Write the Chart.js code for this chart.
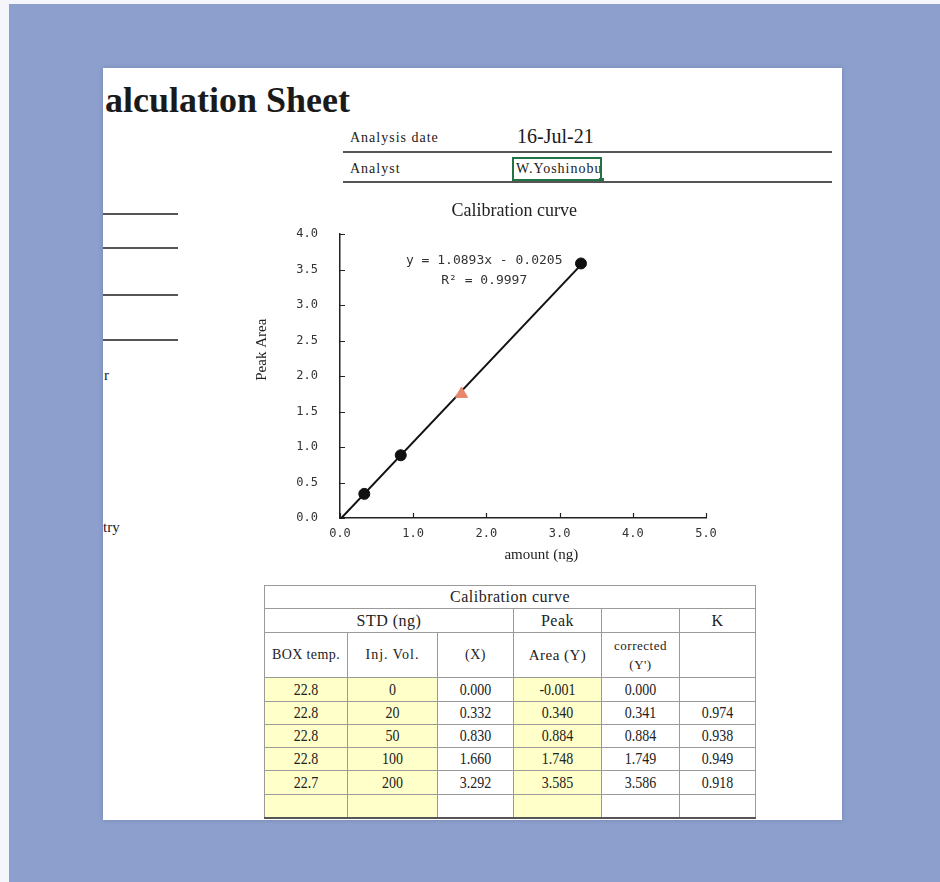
<!DOCTYPE html>
<html>
<head>
<meta charset="utf-8">
<script src="https://cdn.jsdelivr.net/npm/chart.js@4.4.1/dist/chart.umd.min.js"></script>
<style>
  html,body{margin:0;padding:0;}
  body{width:940px;height:882px;background:#8d9fcc;position:relative;overflow:hidden;font-family:"Liberation Serif","DejaVu Serif",serif;color:#1a1a1a;}
  .topstrip{position:absolute;left:0;top:0;width:940px;height:4px;background:#f4f6fb;}
  .leftstrip{position:absolute;left:0;top:0;width:9px;height:882px;background:#f4f6fb;}
  .sheet{position:absolute;left:103px;top:68px;width:739px;height:752px;background:#fff;overflow:hidden;box-shadow:0 0 4px rgba(60,70,120,0.3);}
  .abs{position:absolute;white-space:nowrap;}
  .hline{position:absolute;height:2px;background:#555;}
  #chartWrap{position:absolute;left:147px;top:127px;width:530px;height:380px;}
  table.cal{position:absolute;left:161px;top:517px;border-collapse:collapse;table-layout:fixed;font-family:"Liberation Serif",serif;font-size:16px;color:#222;}
  table.cal td{border:1px solid #9a9a9a;text-align:center;padding:0;overflow:hidden;white-space:nowrap;}
  table.cal td.y{background:#ffffc9;}
  table.cal tr.last td{border-bottom:2px solid #555;}
  table.cal tr.d td{font-size:14px;}
  table.cal tr.d td span{display:inline-block;transform:scaleY(1.2);}
  table.cal tr.h td{letter-spacing:0.5px;}
</style>
</head>
<body>
<div class="topstrip"></div>
<div class="leftstrip"></div>
<div class="sheet" id="sheet">
  <div class="abs" id="pageTitle" style="left:-24px;top:11px;font-size:36px;font-weight:bold;"></div>
  <div class="abs" id="dateLabel" style="left:247px;top:62px;font-size:14px;letter-spacing:1px;"></div>
  <div class="abs" id="dateValue" style="left:414px;top:57px;font-size:20px;"></div>
  <div class="hline" style="left:240px;top:83px;width:489px;"></div>
  <div class="abs" id="analystLabel" style="left:247px;top:93px;font-size:14px;letter-spacing:1px;"></div>
  <div class="abs" id="analystValue" style="left:413px;top:93px;font-size:14px;letter-spacing:1px;"></div>
  <div class="abs" style="left:409px;top:89px;width:86px;height:20px;border:2px solid #217346;"></div>
  <div class="abs" style="left:496px;top:110px;width:5px;height:5px;background:#217346;"></div>
  <div class="hline" style="left:240px;top:113px;width:489px;"></div>

  <div class="hline" style="left:0;top:145px;width:75px;"></div>
  <div class="hline" style="left:0;top:179px;width:75px;"></div>
  <div class="hline" style="left:0;top:226px;width:75px;"></div>
  <div class="hline" style="left:0;top:271px;width:75px;"></div>
  <div class="abs" id="sideA" style="left:1px;top:299px;font-size:15px;"></div>
  <div class="abs" id="sideB" style="left:0px;top:451px;font-size:15px;"></div>

  <div id="chartWrap"><canvas id="c" width="530" height="380"></canvas></div>

  <table class="cal" id="calTable"></table>
</div>

<script>
// ---------- data ----------
const pageTitleText = "Calculation Sheet";
const infoLabels = ["Analysis date", "Analyst"];
const infoValues = ["16-Jul-21", "W.Yoshinobu"];
const sideTexts = ["r", "try"];

const chartTitle = "Calibration curve";
const xAxisTitle = "amount (ng)";
const yAxisTitle = "Peak Area";
const equationLines = ["y = 1.0893x - 0.0205", "R\u00B2 = 0.9997"];

const tableTitle = "Calibration curve";
const headerRow1 = ["STD (ng)", "Peak", "", "K"];
const headerRow2 = ["BOX temp.", "Inj. Vol.", "(X)", "Area (Y)", "corrected", ""];

const boxTemp    = ["22.8", "22.8", "22.8", "22.8", "22.7", ""];
const injVol     = ["0", "20", "50", "100", "200", ""];
const amountX    = [0.000, 0.332, 0.830, 1.660, 3.292];
const areaY      = [-0.001, 0.340, 0.884, 1.748, 3.585];
const correctedY = ["0.000", "0.341", "0.884", "1.749", "3.586", ""];
const kValues    = ["", "0.974", "0.938", "0.949", "0.918", ""];

// plotted standards (non-zero rows)
const plotX = amountX.slice(1);
const plotY = areaY.slice(1);
const markerStyles = ["circle", "circle", "triangle", "circle"];
const markerColors = ["#111", "#111", "#e8876c", "#111"];
const markerSizes  = [5.5, 5.5, 7, 5.5];

// regression line end points (as drawn)
const trendX = [0, 3.292];
const trendY = [-0.0205, 3.5655];

const xTicks = [0, 1, 2, 3, 4, 5];
const yTicks = [0, 0.5, 1, 1.5, 2, 2.5, 3, 3.5, 4];

// ---------- page text ----------
document.getElementById('pageTitle').textContent = pageTitleText;
document.getElementById('dateLabel').textContent = infoLabels[0];
document.getElementById('analystLabel').textContent = infoLabels[1];
document.getElementById('dateValue').textContent = infoValues[0];
document.getElementById('analystValue').textContent = infoValues[1];
document.getElementById('sideA').textContent = sideTexts[0];
document.getElementById('sideB').textContent = sideTexts[1];

// ---------- table ----------
const colW = [83, 90, 76, 88, 78, 76];
const tbl = document.getElementById('calTable');
let html = '<colgroup>' + colW.map(w => '<col style="width:' + w + 'px">').join('') + '</colgroup>';
html += '<tr class="h" style="height:23px"><td colspan="6">' + tableTitle + '</td></tr>';
html += '<tr class="h" style="height:24px"><td colspan="3">' + headerRow1[0] + '</td><td>' + headerRow1[1] + '</td><td>' + headerRow1[2] + '</td><td>' + headerRow1[3] + '</td></tr>';
html += '<tr class="h" style="height:45px">' +
  '<td style="font-size:14px;letter-spacing:0.4px">' + headerRow2[0] + '</td>' +
  '<td style="font-size:14px;letter-spacing:1px">' + headerRow2[1] + '</td>' +
  '<td style="font-size:14px">' + headerRow2[2] + '</td>' +
  '<td style="font-size:15px">' + headerRow2[3] + '</td>' +
  '<td style="font-size:13px;line-height:19px">' + headerRow2[4] + '<br>(Y\')</td>' +
  '<td>' + headerRow2[5] + '</td></tr>';
const rowH = [24, 23, 23, 23, 24, 23];
const sp = t => '<span>' + t + '</span>';
for (let i = 0; i < 6; i++) {
  const has = i < amountX.length;
  html += '<tr class="d' + (i === 5 ? ' last' : '') + '" style="height:' + rowH[i] + 'px">' +
    '<td class="y">' + sp(boxTemp[i]) + '</td>' +
    '<td class="y">' + sp(injVol[i]) + '</td>' +
    '<td>' + sp(has ? amountX[i].toFixed(3) : '') + '</td>' +
    '<td class="y">' + sp(has ? areaY[i].toFixed(3) : '') + '</td>' +
    '<td>' + sp(correctedY[i]) + '</td>' +
    '<td>' + sp(kValues[i]) + '</td></tr>';
}
tbl.innerHTML = html;

// ---------- chart ----------
const chartDecor = {
  id: 'chartDecor',
  afterDraw(chart) {
    const { ctx, scales: { x, y }, chartArea: a } = chart;
    ctx.save();
    // inside tick marks
    ctx.strokeStyle = '#222';
    ctx.lineWidth = 1.2;
    ctx.beginPath();
    xTicks.forEach(v => { const px = Math.round(x.getPixelForValue(v)) + 0.5; ctx.moveTo(px, a.bottom); ctx.lineTo(px, a.bottom - 5); });
    yTicks.forEach(v => { const py = Math.round(y.getPixelForValue(v)) + 0.5; ctx.moveTo(a.left, py); ctx.lineTo(a.left + 5, py); });
    ctx.stroke();
    // chart title
    ctx.fillStyle = '#222';
    ctx.textAlign = 'center';
    ctx.textBaseline = 'middle';
    ctx.font = '18px "Liberation Serif", serif';
    ctx.fillText(chartTitle, x.getPixelForValue(2.38), a.top - 23);
    // axis titles
    ctx.font = '15px "Liberation Serif", serif';
    ctx.fillText(xAxisTitle, x.getPixelForValue(2.75), a.bottom + 37);
    ctx.save();
    ctx.translate(a.left - 78, y.getPixelForValue(2.37));
    ctx.rotate(-Math.PI / 2);
    ctx.font = '15px "Liberation Serif", serif';
    ctx.fillText(yAxisTitle, 0, 0);
    ctx.restore();
    // equation text
    ctx.fillStyle = '#333';
    ctx.font = '13px "DejaVu Sans Mono", monospace';
    ctx.fillText(equationLines[0], x.getPixelForValue(1.97), y.getPixelForValue(3.63));
    ctx.fillText(equationLines[1], x.getPixelForValue(1.97), y.getPixelForValue(3.35));
    ctx.restore();
  }
};

const tickFont = { family: '"DejaVu Sans Mono", monospace', size: 12 };
new Chart(document.getElementById('c'), {
  type: 'scatter',
  data: {
    datasets: [
      {
        label: 'trend',
        type: 'line',
        data: trendX.map((v, i) => ({ x: v, y: trendY[i] })),
        borderColor: '#111',
        borderWidth: 2,
        pointRadius: 0,
        fill: false,
        order: 2
      },
      {
        label: 'STD',
        data: plotX.map((v, i) => ({ x: v, y: plotY[i] })),
        pointStyle: markerStyles,
        pointRadius: markerSizes,
        pointBackgroundColor: markerColors,
        pointBorderColor: markerColors,
        pointBorderWidth: 1,
        showLine: false,
        order: 1
      }
    ]
  },
  options: {
    responsive: false,
    animation: false,
    devicePixelRatio: 1,
    events: [],
    layout: { padding: { left: 2, right: 74, top: 39, bottom: 7 } },
    plugins: {
      legend: { display: false },
      tooltip: { enabled: false },
      title: { display: false }
    },
    scales: {
      x: {
        type: 'linear', min: 0, max: 5,
        afterBuildTicks: s => { s.ticks = xTicks.map(v => ({ value: v })); },
        afterFit: s => { s.height = 50; },
        ticks: { callback: v => Number(v).toFixed(1), color: '#333', font: tickFont, padding: 9, maxRotation: 0 },
        grid: { display: false, drawTicks: false },
        border: { display: true, color: '#222', width: 1.5 },
        title: { display: false }
      },
      y: {
        type: 'linear', min: 0, max: 4,
        afterBuildTicks: s => { s.ticks = yTicks.map(v => ({ value: v })); },
        afterFit: s => { s.width = 88; },
        ticks: { callback: v => Number(v).toFixed(1), color: '#333', font: tickFont, padding: 22 },
        grid: { display: false, drawTicks: false },
        border: { display: true, color: '#222', width: 1.5 },
        title: { display: false }
      }
    }
  },
  plugins: [chartDecor]
});
</script>
</body>
</html>
